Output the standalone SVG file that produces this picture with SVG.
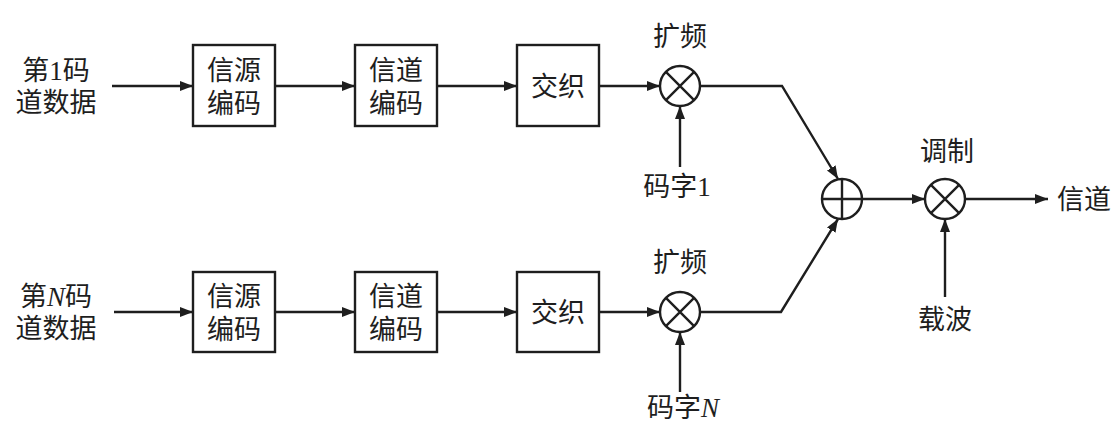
<svg xmlns="http://www.w3.org/2000/svg" width="1120" height="432" viewBox="0 0 1120 432">
<style>
text{font-family:"Liberation Serif","Noto Sans CJK SC",serif;font-size:27px;fill:#1e1e1e;text-anchor:middle;dominant-baseline:central}
.box{fill:none;stroke:#1e1e1e;stroke-width:2.4}
.ring{fill:#fff;stroke:#1e1e1e;stroke-width:2.4}
.ln{fill:none;stroke:#1e1e1e;stroke-width:2.4}
.it{font-style:italic}
</style>
<defs>
<marker id="ah" markerUnits="userSpaceOnUse" markerWidth="14" markerHeight="12" refX="13" refY="5" orient="auto">
<path d="M0,0 L13,5 L0,10 Z" fill="#1e1e1e"/>
</marker>
</defs>
<rect width="1120" height="432" fill="#fff"/>
<g id="connectors">
<line class="ln" x1="112" y1="86" x2="193" y2="86" marker-end="url(#ah)"/>
<line class="ln" x1="275" y1="86" x2="355" y2="86" marker-end="url(#ah)"/>
<line class="ln" x1="437" y1="86" x2="517" y2="86" marker-end="url(#ah)"/>
<line class="ln" x1="599" y1="86" x2="660" y2="86" marker-end="url(#ah)"/>
<line class="ln" x1="680" y1="167" x2="680" y2="106" marker-end="url(#ah)"/>
<polyline class="ln" points="700,86 782,86 838,179" marker-end="url(#ah)"/>
<line class="ln" x1="114" y1="312" x2="193" y2="312" marker-end="url(#ah)"/>
<line class="ln" x1="275" y1="312" x2="355" y2="312" marker-end="url(#ah)"/>
<line class="ln" x1="437" y1="312" x2="517" y2="312" marker-end="url(#ah)"/>
<line class="ln" x1="599" y1="312" x2="660" y2="312" marker-end="url(#ah)"/>
<line class="ln" x1="680" y1="392" x2="680" y2="332" marker-end="url(#ah)"/>
<polyline class="ln" points="700,312 781,312 838,219" marker-end="url(#ah)"/>
<line class="ln" x1="862" y1="199" x2="925" y2="199" marker-end="url(#ah)"/>
<line class="ln" x1="965" y1="199" x2="1048" y2="199" marker-end="url(#ah)"/>
<line class="ln" x1="945" y1="297" x2="945" y2="219" marker-end="url(#ah)"/>
</g>
<g id="in1"><text x="56" y="71">第1码</text><text x="56" y="103">道数据</text></g>
<g id="src1"><rect class="box" x="193" y="45" width="82" height="81"/><text x="234" y="71">信源</text><text x="234" y="104">编码</text></g>
<g id="ch1"><rect class="box" x="355" y="45" width="82" height="81"/><text x="396" y="71">信道</text><text x="396" y="104">编码</text></g>
<g id="il1"><rect class="box" x="517" y="45" width="82" height="81"/><text x="558" y="87">交织</text></g>
<g id="sp1"><circle class="ring" cx="680" cy="86" r="20"/><path class="ln" d="M665.9,71.9 L694.1,100.1 M694.1,71.9 L665.9,100.1"/><text x="680" y="37">扩频</text></g>
<g id="cw1"><text x="677" y="187">码字1</text></g>
<g id="inN"><text x="56" y="297">第<tspan class="it">N</tspan>码</text><text x="56" y="329">道数据</text></g>
<g id="srcN"><rect class="box" x="193" y="272" width="82" height="80"/><text x="234" y="297">信源</text><text x="234" y="330">编码</text></g>
<g id="chN"><rect class="box" x="355" y="272" width="82" height="80"/><text x="396" y="297">信道</text><text x="396" y="330">编码</text></g>
<g id="ilN"><rect class="box" x="517" y="272" width="82" height="80"/><text x="558" y="313">交织</text></g>
<g id="spN"><circle class="ring" cx="680" cy="312" r="20"/><path class="ln" d="M665.9,297.9 L694.1,326.1 M694.1,297.9 L665.9,326.1"/><text x="680" y="263">扩频</text></g>
<g id="cwN"><text x="683" y="408">码字<tspan class="it">N</tspan></text></g>
<g id="sum"><circle class="ring" cx="842" cy="199" r="20"/><path class="ln" d="M822,199 L862,199 M842,179 L842,219"/></g>
<g id="mod"><circle class="ring" cx="945" cy="199" r="20"/><path class="ln" d="M930.9,184.9 L959.1,213.1 M959.1,184.9 L930.9,213.1"/><text x="947" y="152">调制</text></g>
<g id="carrier"><text x="945" y="320">载波</text></g>
<g id="out"><text x="1084" y="200">信道</text></g>
</svg>
